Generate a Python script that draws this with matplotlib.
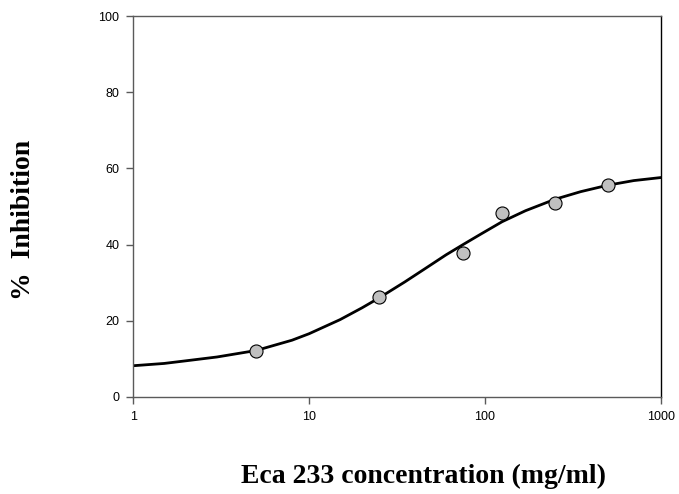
import numpy as np
import matplotlib
matplotlib.use("Agg")
import matplotlib.pyplot as plt
from matplotlib.ticker import FixedLocator, NullLocator

# measured points
conc = [5, 25, 75, 125, 250, 500]
inhibition = [12.1, 26.2, 37.9, 48.4, 51.0, 55.6]

# fitted curve
curve_x = [1, 1.5, 2, 3, 5, 8, 10, 15, 20, 25, 35, 45, 60, 75, 95,
           125, 170, 250, 350, 500, 700, 1000]
curve_y = [8.2, 8.8, 9.5, 10.5, 12.2, 14.9, 16.6, 20.3, 23.4, 26.0, 30.2,
           33.5, 37.3, 40.0, 42.8, 46.0, 48.9, 51.9, 53.9, 55.6, 56.8, 57.6]

x_ticks = [1, 10, 100, 1000]
y_ticks = [0, 20, 40, 60, 80, 100]

plt.rcParams["font.family"] = ["Liberation Sans", "DejaVu Sans"]

fig = plt.figure(figsize=(6.79, 4.94), dpi=100)
ax = fig.add_axes([0.196, 0.1964, 0.7775, 0.7712])

ax.plot(curve_x, curve_y, color="black", lw=2.0, zorder=2)
ax.plot(conc, inhibition, "o", ms=9.4, mfc="#c0c0c0", mec="black",
        mew=0.8, zorder=3)

ax.set_xscale("log")
ax.set_xlim(1, 1000)
ax.set_ylim(0, 100)
ax.xaxis.set_major_locator(FixedLocator(x_ticks))
ax.xaxis.set_minor_locator(NullLocator())
ax.set_xticklabels([str(v) for v in x_ticks])
ax.yaxis.set_major_locator(FixedLocator(y_ticks))

for side in ["left", "bottom", "top"]:
    ax.spines[side].set_color("#5a5a5a")
ax.spines["right"].set_color("black")
for sp in ax.spines.values():
    sp.set_linewidth(1.0)

ax.tick_params(direction="out", length=5, width=1, color="#5a5a5a",
               labelsize=9, pad=5)

fig.text(0.034, 0.555, "%  Inhibition", rotation=90, ha="center", va="center",
         family="Liberation Serif", weight="bold", fontsize=20)
fig.text(0.623, 0.035, "Eca 233 concentration (mg/ml)", ha="center",
         va="center", family="Liberation Serif", weight="bold", fontsize=20)

fig.savefig("out.png", dpi=100)
